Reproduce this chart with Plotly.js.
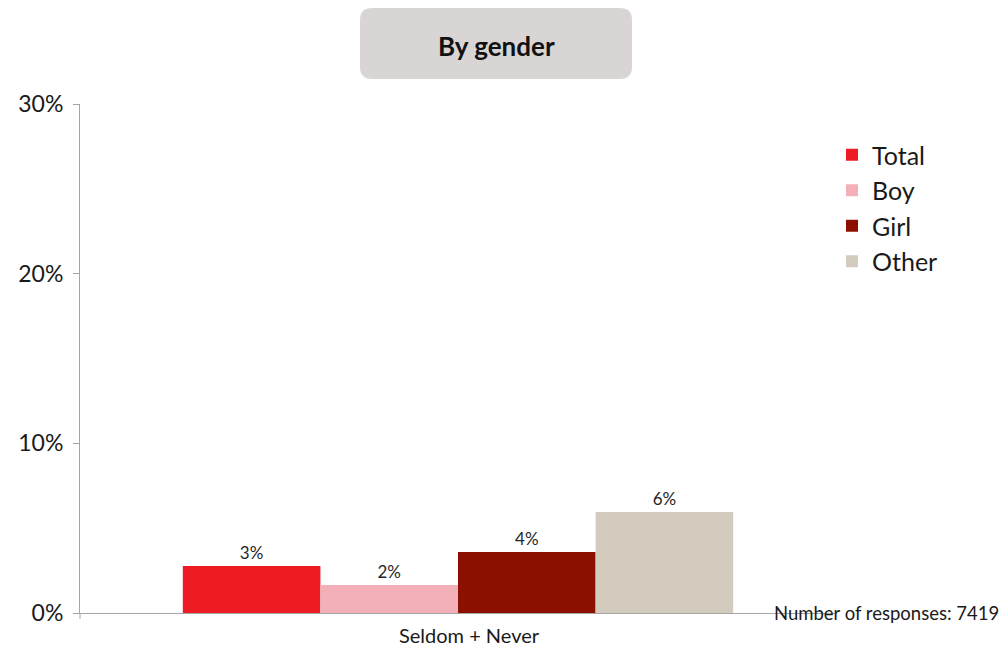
<!DOCTYPE html>
<html>
<head>
<meta charset="utf-8">
<script src="https://cdn.plot.ly/plotly-3.0.1.min.js"></script>
<style>html,body{margin:0;padding:0;background:#fff;}#chart{width:999px;height:647px;}</style>
</head>
<body>
<div id="chart"></div>
<script>
const categories = ["Seldom + Never"];
const seriesNames = ["Total", "Boy", "Girl", "Other"];
const totalValues = [2.77];
const boyValues = [1.65];
const girlValues = [3.6];
const otherValues = [5.95];
const seriesColors = ["#ED1C24", "#F4B0B9", "#8B1000", "#D3CBBE"];
const yTickVals = [0, 10, 20, 30];
const yTickText = ["0%", "10%", "20%", "30%"];
const titleText = "<b>By gender</b>";
const noteText = "Number of responses: 7419";

const seriesValues = [totalValues, boyValues, girlValues, otherValues];
const FONT = "Lato, 'Open Sans', sans-serif";

const traces = seriesNames.map((name, i) => ({
  type: "bar",
  name: name,
  x: categories,
  y: seriesValues[i],
  marker: { color: seriesColors[i], line: { width: 0 } },
  texttemplate: "%{y:.0f}%",
  textposition: "outside",
  cliponaxis: false,
  textfont: { family: FONT, size: 17, color: "#262626" },
  hoverinfo: "skip"
}));

// plot area: x 80..836, y 104..613
const W = 756, H = 509;
const px = v => (v - 80) / W;
const py = v => (613 - v) / H;
const bx0 = px(360), bx1 = px(632), by0 = py(79), by1 = py(8);
const rx = 12 / W, ry = 12 / H;
const boxPath = `M ${bx0 + rx} ${by1} L ${bx1 - rx} ${by1} Q ${bx1} ${by1} ${bx1} ${by1 - ry} ` +
  `L ${bx1} ${by0 + ry} Q ${bx1} ${by0} ${bx1 - rx} ${by0} L ${bx0 + rx} ${by0} ` +
  `Q ${bx0} ${by0} ${bx0} ${by0 + ry} L ${bx0} ${by1 - ry} Q ${bx0} ${by1} ${bx0 + rx} ${by1} Z`;

const layout = {
  width: 999, height: 647,
  margin: { l: 80, r: 163, t: 104, b: 34, pad: 0 },
  paper_bgcolor: "#ffffff",
  plot_bgcolor: "#ffffff",
  font: { family: FONT, color: "#1a1a1a" },
  barmode: "group",
  bargap: 0.272,
  bargroupgap: 0,
  showlegend: true,
  legend: {
    x: px(832), y: py(132), xanchor: "left", yanchor: "top",
    font: { family: FONT, size: 25, color: "#1a1a1a" },
    itemwidth: 30, tracegroupgap: 0, bgcolor: "rgba(0,0,0,0)"
  },
  xaxis: {
    type: "category",
    showline: true, linecolor: "#a6a6a6", linewidth: 1,
    showgrid: false, zeroline: false,
    ticks: "", tickfont: { family: FONT, size: 20, color: "#1a1a1a" },
    ticklabelstandoff: 5, ticklabelshift: 11
  },
  yaxis: {
    range: [0, 30],
    tickvals: yTickVals, ticktext: yTickText,
    showline: true, linecolor: "#a6a6a6", linewidth: 1,
    ticks: "outside", ticklen: 6, tickcolor: "#a6a6a6",
    showgrid: false, zeroline: false,
    tickfont: { family: FONT, size: 23, color: "#1a1a1a" },
    ticklabelstandoff: 5
  },
  shapes: [
    { type: "path", xref: "paper", yref: "paper", path: boxPath,
      fillcolor: "#D9D5D4", line: { width: 0 }, layer: "below" },
    { type: "line", xref: "paper", yref: "paper", x0: 0, x1: 0, y0: 0, y1: -6 / H,
      line: { color: "#a6a6a6", width: 1 } }
  ],
  annotations: [
    { xref: "paper", yref: "paper", x: px(496), y: py(46), xanchor: "center", yanchor: "middle",
      text: titleText, showarrow: false, font: { family: FONT, size: 26, color: "#111111" } },
    { xref: "paper", yref: "paper", x: px(1001), y: py(613), xanchor: "right", yanchor: "middle",
      text: noteText, showarrow: false, font: { family: FONT, size: 18.5, color: "#1a1a1a" } }
  ]
};

Plotly.newPlot("chart", traces, layout, { displayModeBar: false, staticPlot: true });
</script>
</body>
</html>
